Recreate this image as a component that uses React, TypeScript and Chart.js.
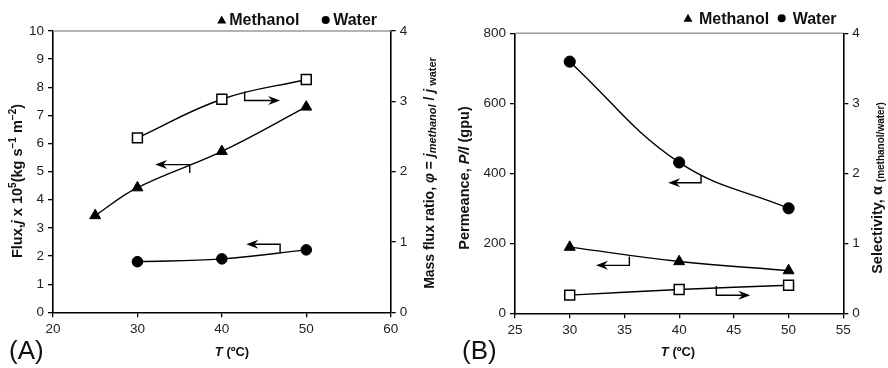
import React, { useEffect, useRef } from "react";
import { Chart, registerables } from "chart.js";

Chart.register(...registerables);

// ---------- Data ----------
// Panel A
const tempA_methanol = [25, 30, 40, 50];
const fluxMethanolA = [3.44, 4.43, 5.72, 7.3];
const tempA = [30, 40, 50];
const fluxWaterA = [1.8, 1.9, 2.22];
const ratioA = [2.48, 3.03, 3.31];
const xTicksA = { min: 20, max: 60, step: 10 };
const yLeftA = { min: 0, max: 10, step: 1 };
const yRightA = { min: 0, max: 4, step: 1 };

// Panel B
const tempB = [30, 40, 50];
const permWaterB = [719, 431, 300];
const permMethanolB = [189, 148, 122];
const selectivityB = [0.26, 0.34, 0.4];
const xTicksB = { min: 25, max: 55, step: 5 };
const yLeftB = { min: 0, max: 800, step: 200 };
const yRightB = { min: 0, max: 4, step: 1 };

// Axis-indicating arrows (data coordinates): corner x, vertical from y1 to y2, then horizontal to tip x
const arrowsA = [
  { x: 42.7, y1: 7.85, y2: 7.53, tip: 46.9, axis: "y" },
  { x: 36.2, y1: 4.95, y2: 5.25, tip: 32.1, axis: "y" },
  { x: 46.9, y1: 2.1, y2: 2.42, tip: 42.9, axis: "y" },
];
const arrowsB = [
  { x: 42.0, y1: 395, y2: 373, tip: 39.0, axis: "y" },
  { x: 35.45, y1: 162, y2: 137, tip: 32.4, axis: "y" },
  { x: 43.4, y1: 0.39, y2: 0.257, tip: 46.5, axis: "y2" },
];

const FONT = "'Liberation Sans', Arial, Helvetica, sans-serif";
const TEXT = "#111";

type Run = { text: string; font: string; dy?: number };

function drawRuns(ctx: CanvasRenderingContext2D, runs: Run[], cx: number, cy: number, rot: number) {
  ctx.save();
  ctx.translate(cx, cy);
  ctx.rotate(rot);
  let total = 0;
  const widths: number[] = [];
  for (const r of runs) {
    ctx.font = r.font;
    const w = ctx.measureText(r.text).width;
    widths.push(w);
    total += w;
  }
  let x = -total / 2;
  ctx.textBaseline = "middle";
  ctx.textAlign = "left";
  ctx.fillStyle = TEXT;
  runs.forEach((r, i) => {
    ctx.font = r.font;
    ctx.fillText(r.text, x, r.dy || 0);
    x += widths[i];
  });
  ctx.restore();
}

function drawArrows(chart: any, arrows: any[]) {
  const ctx = chart.ctx as CanvasRenderingContext2D;
  const xs = chart.scales.x;
  ctx.save();
  ctx.strokeStyle = "#000";
  ctx.fillStyle = "#000";
  ctx.lineWidth = 1.4;
  for (const a of arrows) {
    const ys = chart.scales[a.axis];
    const px = xs.getPixelForValue(a.x);
    const py1 = ys.getPixelForValue(a.y1);
    const py2 = ys.getPixelForValue(a.y2);
    const pt = xs.getPixelForValue(a.tip);
    const dir = pt > px ? 1 : -1;
    ctx.beginPath();
    ctx.moveTo(px, py1);
    ctx.lineTo(px, py2);
    ctx.lineTo(pt - dir * 6, py2);
    ctx.stroke();
    // arrow head
    ctx.beginPath();
    ctx.moveTo(pt, py2);
    ctx.lineTo(pt - dir * 12, py2 - 4.5);
    ctx.lineTo(pt - dir * 8, py2);
    ctx.lineTo(pt - dir * 12, py2 + 4.5);
    ctx.closePath();
    ctx.fill();
  }
  ctx.restore();
}

function drawLegend(ctx: CanvasRenderingContext2D, triX: number, circX: number, y: number, gap: number) {
  ctx.save();
  ctx.fillStyle = "#000";
  ctx.beginPath();
  ctx.moveTo(triX, y - 4.5);
  ctx.lineTo(triX + 4.5, y + 3.5);
  ctx.lineTo(triX - 4.5, y + 3.5);
  ctx.closePath();
  ctx.fill();
  ctx.beginPath();
  ctx.arc(circX, y, 4, 0, Math.PI * 2);
  ctx.fill();
  ctx.font = `bold 16px ${FONT}`;
  ctx.textBaseline = "middle";
  ctx.textAlign = "left";
  ctx.fillStyle = TEXT;
  ctx.fillText("Methanol", triX + gap, y + 1);
  ctx.fillText("Water", circX + gap, y + 1);
  ctx.restore();
}

function tickCfg(r: { min: number; max: number; step: number }, pos: string, fitSize: number, isX: boolean) {
  return {
    type: "linear",
    position: pos,
    min: r.min,
    max: r.max,
    ticks: {
      stepSize: r.step,
      color: "#222",
      font: { family: FONT, size: 13.5 },
      padding: 4,
      maxRotation: 0,
      autoSkip: false,
    },
    grid: {
      drawOnChartArea: false,
      drawTicks: true,
      tickLength: 5,
      color: "#000",
      lineWidth: 1.3,
    },
    border: { display: true, color: "#000", width: 1.6 },
    afterFit: (s: any) => {
      if (isX) s.height = fitSize;
      else s.width = fitSize;
    },
  };
}

function ds(label: string, xs: number[], ys: number[], axis: string, style: string, radius: number, hollow = false) {
  return {
    label,
    data: xs.map((x, i) => ({ x, y: ys[i] })),
    yAxisID: axis,
    borderColor: "#000",
    backgroundColor: "#000",
    borderWidth: 1.4,
    pointStyle: style,
    pointRadius: radius,
    pointBackgroundColor: hollow ? "#fff" : "#000",
    pointBorderColor: "#000",
    pointBorderWidth: hollow ? 1.5 : 1,
    tension: 0.4,
    fill: false,
  };
}

function makeDecor(kind: "A" | "B") {
  return {
    id: "decor" + kind,
    afterDraw(chart: any) {
      const ctx = chart.ctx as CanvasRenderingContext2D;
      const ca = chart.chartArea;
      ctx.save();
      ctx.strokeStyle = "#9a9a9a";
      ctx.lineWidth = 1.5;
      ctx.beginPath();
      ctx.moveTo(ca.left, ca.top);
      ctx.lineTo(ca.right, ca.top);
      ctx.stroke();
      ctx.restore();

      const b = `bold 14.5px ${FONT}`;
      const bi = `italic bold 14.5px ${FONT}`;
      const sup = `bold 10px ${FONT}`;
      const tB = `bold 13px ${FONT}`;
      const tBI = `italic bold 13px ${FONT}`;

      if (kind === "A") {
        drawArrows(chart, arrowsA);
        drawLegend(ctx, 221.7, 325.7, 20, 7.5);
        drawRuns(
          ctx,
          [
            { text: "Flux,", font: b },
            { text: "j", font: bi },
            { text: " x 10", font: b },
            { text: "5", font: sup, dy: -4 },
            { text: "(kg s", font: b },
            { text: "\u22121", font: sup, dy: -4 },
            { text: " m", font: b },
            { text: "\u22122", font: sup, dy: -4 },
            { text: ")", font: b },
          ],
          17.5,
          181,
          -Math.PI / 2
        );
        drawRuns(
          ctx,
          [
            { text: "Mass flux ratio, ", font: `bold 14px ${FONT}` },
            { text: "\u03C6", font: `italic bold 14px ${FONT}` },
            { text: " = ", font: `bold 14px ${FONT}` },
            { text: "j", font: `italic bold 14px ${FONT}` },
            { text: "methanol", font: `italic bold 11px ${FONT}`, dy: 3 },
            { text: " / ", font: `bold 14px ${FONT}` },
            { text: "j", font: `italic bold 14px ${FONT}` },
            { text: " water", font: `bold 11px ${FONT}`, dy: 3 },
          ],
          430,
          173,
          -Math.PI / 2
        );
        drawRuns(ctx, [{ text: "T", font: tBI }, { text: " (\u00BAC)", font: tB }], 232, 352, 0);
        ctx.save();
        ctx.font = `26px ${FONT}`;
        ctx.fillStyle = TEXT;
        ctx.textBaseline = "middle";
        ctx.textAlign = "left";
        ctx.fillText("(A)", 9, 352);
        ctx.restore();
      } else {
        drawArrows(chart, arrowsB);
        drawLegend(ctx, 244, 337.7, 18.3, 11);
        drawRuns(
          ctx,
          [
            { text: "Permeance, ", font: b },
            { text: "P/l", font: bi },
            { text: " (gpu)", font: b },
          ],
          21,
          178,
          -Math.PI / 2
        );
        drawRuns(
          ctx,
          [
            { text: "Selectivity, \u03B1 ", font: b },
            { text: "(methanol/water)", font: `bold 10px ${FONT}`, dy: 3 },
          ],
          434,
          188,
          -Math.PI / 2
        );
        drawRuns(ctx, [{ text: "T", font: tBI }, { text: " (\u00BAC)", font: tB }], 234, 352, 0);
        ctx.save();
        ctx.font = `26px ${FONT}`;
        ctx.fillStyle = TEXT;
        ctx.textBaseline = "middle";
        ctx.textAlign = "left";
        ctx.fillText("(B)", 18, 352);
        ctx.restore();
      }
    },
  };
}

function Panel({ kind }: { kind: "A" | "B" }) {
  const ref = useRef<HTMLCanvasElement | null>(null);
  useEffect(() => {
    document.body.style.margin = "0";
    if (!ref.current) return;
    const isA = kind === "A";
    const datasets = isA
      ? [
          ds("Methanol", tempA_methanol, fluxMethanolA, "y", "triangle", 6.3),
          ds("Water", tempA, fluxWaterA, "y", "circle", 5.3),
          ds("Mass flux ratio", tempA, ratioA, "y2", "rect", 7, true),
        ]
      : [
          ds("Water", tempB, permWaterB, "y", "circle", 5.6),
          ds("Methanol", tempB, permMethanolB, "y", "triangle", 6.3),
          ds("Selectivity", tempB, selectivityB, "y2", "rect", 7, true),
        ];
    const scales = isA
      ? {
          x: tickCfg(xTicksA, "bottom", 55.7, true),
          y: tickCfg(yLeftA, "left", 53, false),
          y2: tickCfg(yRightA, "right", 53.3, false),
        }
      : {
          x: tickCfg(xTicksB, "bottom", 54.7, true),
          y: tickCfg(yLeftB, "left", 71, false),
          y2: tickCfg(yRightB, "right", 44.7, false),
        };
    const chart = new Chart(ref.current, {
      type: "line",
      data: { datasets } as any,
      options: {
        responsive: false,
        animation: false,
        layout: { padding: { top: isA ? 31 : 33.3, left: 0, right: 0, bottom: 0 } },
        plugins: { legend: { display: false }, tooltip: { enabled: false } },
        scales: scales as any,
      },
      plugins: [makeDecor(kind)],
    });
    return () => chart.destroy();
  }, [kind]);
  return <canvas ref={ref} width={444} height={368} style={{ display: "block" }} />;
}

export default function App() {
  return (
    <div style={{ display: "flex", width: 888, height: 368, background: "#fff" }}>
      <Panel kind="A" />
      <Panel kind="B" />
    </div>
  );
}
